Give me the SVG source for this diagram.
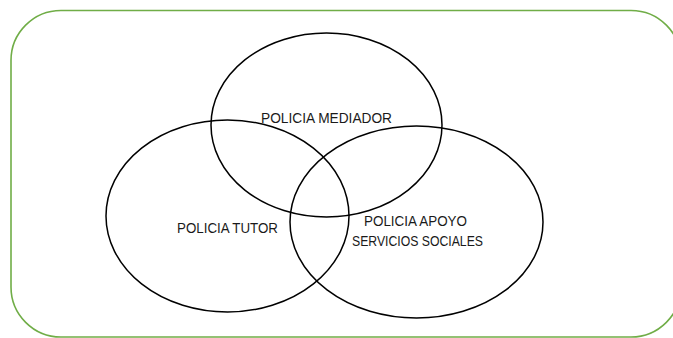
<svg xmlns="http://www.w3.org/2000/svg" width="673" height="338" viewBox="0 0 673 338">
<style>
.frame{fill:#ffffff;stroke:#70AD47;stroke-width:1.6}
.set{fill:none;stroke:#000000;stroke-width:1.5}
.lbl{font-family:"Liberation Sans",Arial,sans-serif;font-size:14px;fill:#1a1a1a;text-anchor:middle}
</style>
<rect width="673" height="338" fill="#ffffff"/>
<rect class="frame" x="11" y="10.5" width="670" height="326.5" rx="50" ry="50"/>
<g id="connectors"></g>
<g id="mediador">
<ellipse class="set" cx="326.5" cy="125" rx="115.5" ry="92"/>
<text class="lbl" x="326.5" y="123" textLength="131" lengthAdjust="spacingAndGlyphs">POLICIA MEDIADOR</text>
</g>
<g id="tutor">
<ellipse class="set" cx="227.5" cy="216" rx="121.5" ry="96"/>
<text class="lbl" x="227.5" y="233" textLength="101" lengthAdjust="spacingAndGlyphs">POLICIA TUTOR</text>
</g>
<g id="apoyo">
<ellipse class="set" cx="416.5" cy="222" rx="126.5" ry="96"/>
<text class="lbl" x="415.5" y="226" textLength="103" lengthAdjust="spacingAndGlyphs">POLICIA APOYO</text>
<text class="lbl" x="417.5" y="246" textLength="131" lengthAdjust="spacingAndGlyphs">SERVICIOS SOCIALES</text>
</g>
</svg>
